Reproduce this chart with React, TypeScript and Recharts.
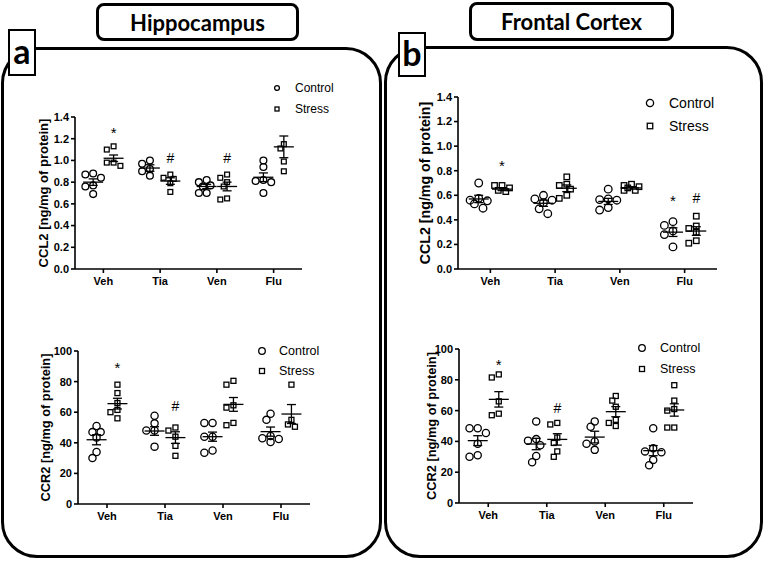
import React from "react";
import { ScatterChart, Scatter, XAxis, YAxis, ErrorBar } from "recharts";

// categories and tick labels
const categories = ["Veh", "Tia", "Ven", "Flu"];
const ccl2Ticks = [0, 0.2, 0.4, 0.6, 0.8, 1.0, 1.2, 1.4];
const ccr2Ticks = [0, 20, 40, 60, 80, 100];

// Hippocampus CCL2
const hipCcl2Control = [
  [0.87, 0.84, 0.88, 0.77, 0.76, 0.69],
  [1.0, 0.97, 0.92, 0.9, 0.86],
  [0.8, 0.82, 0.76, 0.77, 0.7, 0.7],
  [0.94, 1.0, 0.81, 0.82, 0.7, 0.8],
];
const hipCcl2Stress = [
  [1.13, 1.1, 0.98, 0.95, 0.98],
  [0.87, 0.83, 0.84, 0.79, 0.71],
  [0.87, 0.8, 0.84, 0.76, 0.64, 0.65],
  [1.11, 1.15, 0.99, 0.9],
];
const hipCcl2ControlMean = [0.8, 0.93, 0.76, 0.845];
const hipCcl2ControlSem = [0.03, 0.03, 0.02, 0.04];
const hipCcl2StressMean = [1.02, 0.81, 0.76, 1.125];
const hipCcl2StressSem = [0.03, 0.03, 0.04, 0.1];
const hipCcl2Marks = [
  { cat: 1, group: 1, y: 1.29, label: "*" },
  { cat: 2, group: 1, y: 1.02, label: "#" },
  { cat: 3, group: 1, y: 1.02, label: "#" },
];

// Hippocampus CCR2
const hipCcr2Control = [
  [51, 47, 47, 43.5, 30, 34],
  [52.7, 57.7, 48, 48, 37.5],
  [53, 53, 44, 44, 33.5, 35],
  [59, 55, 43, 44.5, 40.5, 42.5],
];
const hipCcr2Stress = [
  [78, 72.5, 66, 61.5, 60, 56],
  [48, 50, 44, 38, 31.5],
  [78, 80.5, 64.5, 63, 51.5, 53],
  [78, 55, 50.5, 52],
];
const hipCcr2ControlMean = [42, 47.7, 44, 47.3];
const hipCcr2ControlSem = [3.3, 2.8, 3, 3];
const hipCcr2StressMean = [65.6, 43.4, 65.1, 58.8];
const hipCcr2StressSem = [3.5, 3.8, 4.5, 6.2];
const hipCcr2Marks = [
  { cat: 1, group: 1, y: 91.5, label: "*" },
  { cat: 2, group: 1, y: 64, label: "#" },
];

// Frontal cortex CCL2
const fcCcl2Control = [
  [0.7, 0.575, 0.555, 0.53, 0.495, 0.56],
  [0.6, 0.56, 0.54, 0.45, 0.49, 0.57],
  [0.65, 0.57, 0.56, 0.565, 0.48, 0.5],
  [0.385, 0.355, 0.31, 0.28, 0.18],
];
const fcCcl2Stress = [
  [0.68, 0.68, 0.63, 0.64, 0.66],
  [0.69, 0.75, 0.65, 0.575, 0.6, 0.68],
  [0.68, 0.69, 0.64, 0.64, 0.66, 0.67],
  [0.43, 0.35, 0.33, 0.3, 0.21, 0.23],
];
const fcCcl2ControlMean = [0.57, 0.535, 0.55, 0.3];
const fcCcl2ControlSem = [0.03, 0.025, 0.025, 0.035];
const fcCcl2StressMean = [0.65, 0.657, 0.66, 0.309];
const fcCcl2StressSem = [0.012, 0.027, 0.01, 0.035];
const fcCcl2Marks = [
  { cat: 1, group: 1, y: 0.87, label: "*" },
  { cat: 4, group: 0, y: 0.59, label: "*" },
  { cat: 4, group: 1, y: 0.575, label: "#" },
];

// Frontal cortex CCR2
const fcCcr2Control = [
  [48.5, 48.5, 45.5, 38.5, 30, 31],
  [53, 40.5, 41.5, 37.5, 30.5, 26.5],
  [53, 49.5, 40, 38.5, 34.5],
  [48.5, 33.5, 35.5, 33, 28, 24.5],
];
const fcCcr2Stress = [
  [81.5, 83.5, 66, 58, 57],
  [51, 52, 42.5, 39, 30, 33.5],
  [69.5, 66.5, 62.5, 54, 52, 50],
  [76.5, 66.5, 61, 60, 49, 49],
];
const fcCcr2ControlMean = [40.5, 38.3, 42.8, 34];
const fcCcr2ControlSem = [3.2, 3.7, 3.8, 3.3];
const fcCcr2StressMean = [67.3, 41.3, 59.3, 60.4];
const fcCcr2StressSem = [5, 3.7, 3.3, 4];
const fcCcr2Marks = [
  { cat: 1, group: 1, y: 92, label: "*" },
  { cat: 2, group: 1, y: 61.5, label: "#" },
];

const groupNames = ["Control", "Stress"];

const FONT = "Arial, 'Liberation Sans', Helvetica, sans-serif";
const TITLE_FONT = "Lato, 'Open Sans', sans-serif";
const SHIFT = 0.18; // group offset from category centre
const STROKE = 1.3;

// small beeswarm: points with close values are nudged sideways, overlapping a bit
function swarm(values: number[], pxPerUnit: number, d: number) {
  const order = values.map((v, i) => i).sort((a, b) => values[b] - values[a]);
  const placed: { x: number; y: number }[] = [];
  const out = new Array(values.length).fill(0);
  const cands = [0, -1, 1, -2, 2];
  for (const i of order) {
    const y = values[i] * pxPerUnit;
    let best = 0;
    let bestDist = -1;
    for (const k of cands) {
      const x = (k * d) / 2;
      const dist = placed.length ? Math.min(...placed.map((p) => Math.hypot(p.x - x, p.y - y))) : Infinity;
      if (dist >= d * 0.8) {
        best = x;
        bestDist = Infinity;
        break;
      }
      if (dist > bestDist) {
        bestDist = dist;
        best = x;
      }
    }
    placed.push({ x: best, y });
    out[i] = best;
  }
  return out;
}

type Mark = { cat: number; group: number; y: number; label: string };

type ChartProps = {
  plot: { x0: number; x1: number; y0: number; y1: number };
  ticks: number[];
  decimals: number;
  yLabel: string;
  labelX: number;
  labelSize: number;
  control: number[][];
  stress: number[][];
  controlMean: number[];
  controlSem: number[];
  stressMean: number[];
  stressSem: number[];
  marks: Mark[];
  r: number;
  sq: number;
  legend: { x: number; y: number; gap: number; textX: number; size: number; r: number; sq: number };
};

const Y_W = 50;
const X_H = 30;
const M_TOP = 20;
const M_RIGHT = 20;
const M_LEFT = 10;
const M_BOTTOM = 20;

const DotChart = (props: ChartProps) => {
  const { plot, ticks, decimals, r, sq } = props;
  const yMax = ticks[ticks.length - 1];
  const pxPerCat = (plot.x1 - plot.x0) / 4;
  const pxPerUnit = (plot.y1 - plot.y0) / yMax;
  const left = plot.x0 - M_LEFT - Y_W;
  const top = plot.y0 - M_TOP;
  const width = plot.x1 - plot.x0 + M_LEFT + Y_W + M_RIGHT;
  const height = plot.y1 - plot.y0 + M_TOP + X_H + M_BOTTOM;

  const points = (vals: number[][], g: number, d: number) =>
    vals.flatMap((v, ci) => {
      const offs = swarm(v, pxPerUnit, d);
      return v.map((y, i) => ({
        x: ci + 1 + (g === 0 ? -SHIFT : SHIFT) + offs[i] / pxPerCat,
        y,
      }));
    });
  const means = (m: number[], s: number[], g: number) =>
    m.map((y, ci) => ({ x: ci + 1 + (g === 0 ? -SHIFT : SHIFT), y, err: s[ci] }));

  const controlPts = points(props.control, 0, r * 2 + 1);
  const stressPts = points(props.stress, 1, sq + 2);
  const allMeans = [
    ...means(props.controlMean, props.controlSem, 0),
    ...means(props.stressMean, props.stressSem, 1),
  ];
  const markPts = props.marks.map((m) => ({
    x: m.cat + (m.group === 0 ? -SHIFT : SHIFT),
    y: m.y,
    label: m.label,
  }));

  const tickStyle = { fill: "#000", fontSize: 11, fontWeight: "bold", fontFamily: FONT };
  const lg = props.legend;

  return (
    <>
      <div style={{ position: "absolute", left, top }}>
        <ScatterChart
          width={width}
          height={height}
          margin={{ top: M_TOP, right: M_RIGHT, left: M_LEFT, bottom: M_BOTTOM }}
        >
          <XAxis
            type="number"
            dataKey="x"
            domain={[0.5, 4.5]}
            ticks={[1, 2, 3, 4]}
            tickFormatter={(v: number) => categories[v - 1]}
            height={X_H}
            tick={tickStyle}
            tickSize={4}
            tickMargin={4}
            axisLine={{ stroke: "#000", strokeWidth: 1.6 }}
            tickLine={{ stroke: "#000", strokeWidth: 1.6 }}
            allowDataOverflow
          />
          <YAxis
            type="number"
            dataKey="y"
            domain={[0, yMax]}
            ticks={ticks}
            interval={0}
            tickFormatter={(v: number) => v.toFixed(decimals)}
            width={Y_W}
            tick={tickStyle}
            tickSize={4}
            tickMargin={2}
            axisLine={{ stroke: "#000", strokeWidth: 1.6 }}
            tickLine={{ stroke: "#000", strokeWidth: 1.6 }}
            allowDataOverflow
            label={{
              value: props.yLabel,
              angle: -90,
              position: "insideLeft",
              offset: props.labelX - plot.x0 + Y_W,
              style: {
                textAnchor: "middle",
                fontSize: props.labelSize,
                fontWeight: "bold",
                fontFamily: FONT,
                fill: "#000",
              },
            }}
          />
          <Scatter
            data={controlPts}
            isAnimationActive={false}
            shape={(p: any) => (
              <circle cx={p.cx} cy={p.cy} r={r} fill="none" stroke="#000" strokeWidth={STROKE} />
            )}
          />
          <Scatter
            data={stressPts}
            isAnimationActive={false}
            shape={(p: any) => (
              <rect
                x={p.cx - sq / 2}
                y={p.cy - sq / 2}
                width={sq}
                height={sq}
                fill="none"
                stroke="#000"
                strokeWidth={STROKE}
              />
            )}
          />
          <Scatter
            data={allMeans}
            isAnimationActive={false}
            shape={(p: any) => (
              <line x1={p.cx - 10} x2={p.cx + 10} y1={p.cy} y2={p.cy} stroke="#000" strokeWidth={STROKE} />
            )}
          >
            <ErrorBar dataKey="err" direction="y" width={4.5} stroke="#000" strokeWidth={STROKE} />
          </Scatter>
          <Scatter
            data={markPts}
            isAnimationActive={false}
            shape={(p: any) => (
              <text
                x={p.cx}
                y={p.cy}
                dy={p.payload.label === "*" ? "0.6em" : "0.36em"}
                textAnchor="middle"
                fontSize={p.payload.label === "*" ? 15 : 14}
                fontFamily={FONT}
                fill="#000"
              >
                {p.payload.label}
              </text>
            )}
          />
        </ScatterChart>
      </div>
      {groupNames.map((name, i) => (
        <React.Fragment key={name}>
          <svg
            style={{ position: "absolute", left: lg.x - 6, top: lg.y + i * lg.gap - 6 }}
            width={12}
            height={12}
          >
            {i === 0 ? (
              <circle cx={6} cy={6} r={lg.r} fill="none" stroke="#000" strokeWidth={STROKE} />
            ) : (
              <rect
                x={6 - lg.sq / 2}
                y={6 - lg.sq / 2}
                width={lg.sq}
                height={lg.sq}
                fill="none"
                stroke="#000"
                strokeWidth={STROKE}
              />
            )}
          </svg>
          <div
            style={{
              position: "absolute",
              left: lg.textX,
              top: lg.y + i * lg.gap,
              transform: "translateY(-50%)",
              fontFamily: FONT,
              fontSize: lg.size,
              lineHeight: 1,
              color: "#000",
              whiteSpace: "nowrap",
            }}
          >
            {name}
          </div>
        </React.Fragment>
      ))}
    </>
  );
};

const box = (s: React.CSSProperties): React.CSSProperties => ({
  position: "absolute",
  boxSizing: "border-box",
  border: "3px solid #000",
  background: "#fff",
  ...s,
});

const App = () => (
  <div
    style={{
      position: "absolute",
      left: 0,
      top: 0,
      width: 765,
      height: 561,
      background: "#fff",
      overflow: "hidden",
    }}
  >
    {/* panel outlines */}
    <div style={box({ left: 1, top: 47, width: 381, height: 511, borderRadius: 36, background: "transparent" })} />
    <div style={box({ left: 384, top: 46, width: 379, height: 512, borderRadius: 36, background: "transparent" })} />

    {/* titles */}
    <div
      style={box({
        left: 96,
        top: 3,
        width: 203,
        height: 38,
        borderRadius: 8,
        display: "flex",
        alignItems: "center",
        justifyContent: "center",
        fontFamily: TITLE_FONT,
        fontWeight: "bold",
        fontSize: 22,
      })}
    >
      Hippocampus
    </div>
    <div
      style={box({
        left: 469,
        top: 2,
        width: 205,
        height: 39,
        borderRadius: 8,
        display: "flex",
        alignItems: "center",
        justifyContent: "center",
        fontFamily: TITLE_FONT,
        fontWeight: "bold",
        fontSize: 22,
      })}
    >
      Frontal Cortex
    </div>

    {/* panel letters */}
    <div
      style={box({
        left: 8,
        top: 29,
        width: 28,
        height: 47,
        border: "2.5px solid #000",
        display: "flex",
        alignItems: "center",
        justifyContent: "center",
        fontFamily: TITLE_FONT,
        fontWeight: "bold",
        fontSize: 34,
        paddingBottom: 4,
      })}
    >
      a
    </div>
    <div
      style={box({
        left: 398,
        top: 32,
        width: 28,
        height: 45,
        border: "2.5px solid #000",
        display: "flex",
        alignItems: "center",
        justifyContent: "center",
        fontFamily: TITLE_FONT,
        fontWeight: "bold",
        fontSize: 34,
        paddingBottom: 4,
      })}
    >
      b
    </div>

    <DotChart
      plot={{ x0: 75, x1: 302, y0: 117, y1: 269 }}
      ticks={ccl2Ticks}
      decimals={1}
      yLabel="CCL2 [ng/mg of protein]"
      labelX={43}
      labelSize={13}
      control={hipCcl2Control}
      stress={hipCcl2Stress}
      controlMean={hipCcl2ControlMean}
      controlSem={hipCcl2ControlSem}
      stressMean={hipCcl2StressMean}
      stressSem={hipCcl2StressSem}
      marks={hipCcl2Marks}
      r={3.4}
      sq={4.8}
      legend={{ x: 277, y: 88, gap: 21, textX: 295, size: 12, r: 2.4, sq: 4 }}
    />
    <DotChart
      plot={{ x0: 78, x1: 310, y0: 351, y1: 504 }}
      ticks={ccr2Ticks}
      decimals={0}
      yLabel="CCR2 [ng/mg of protein]"
      labelX={45}
      labelSize={12.8}
      control={hipCcr2Control}
      stress={hipCcr2Stress}
      controlMean={hipCcr2ControlMean}
      controlSem={hipCcr2ControlSem}
      stressMean={hipCcr2StressMean}
      stressSem={hipCcr2StressSem}
      marks={hipCcr2Marks}
      r={3.6}
      sq={5}
      legend={{ x: 262, y: 351, gap: 20, textX: 279, size: 12.5, r: 3.3, sq: 5 }}
    />
    <DotChart
      plot={{ x0: 458, x1: 717, y0: 97, y1: 269 }}
      ticks={ccl2Ticks}
      decimals={1}
      yLabel="CCL2 [ng/mg of protein]"
      labelX={425}
      labelSize={14.2}
      control={fcCcl2Control}
      stress={fcCcl2Stress}
      controlMean={fcCcl2ControlMean}
      controlSem={fcCcl2ControlSem}
      stressMean={fcCcl2StressMean}
      stressSem={fcCcl2StressSem}
      marks={fcCcl2Marks}
      r={3.8}
      sq={5.5}
      legend={{ x: 650, y: 103, gap: 23, textX: 669, size: 14, r: 3.6, sq: 5.5 }}
    />
    <DotChart
      plot={{ x0: 459, x1: 693, y0: 349, y1: 503 }}
      ticks={ccr2Ticks}
      decimals={0}
      yLabel="CCR2 [ng/mg of protein]"
      labelX={431}
      labelSize={12.8}
      control={fcCcr2Control}
      stress={fcCcr2Stress}
      controlMean={fcCcr2ControlMean}
      controlSem={fcCcr2ControlSem}
      stressMean={fcCcr2StressMean}
      stressSem={fcCcr2StressSem}
      marks={fcCcr2Marks}
      r={3.6}
      sq={5}
      legend={{ x: 642, y: 348, gap: 21, textX: 660, size: 12.5, r: 3.3, sq: 5 }}
    />
  </div>
);

export default App;
